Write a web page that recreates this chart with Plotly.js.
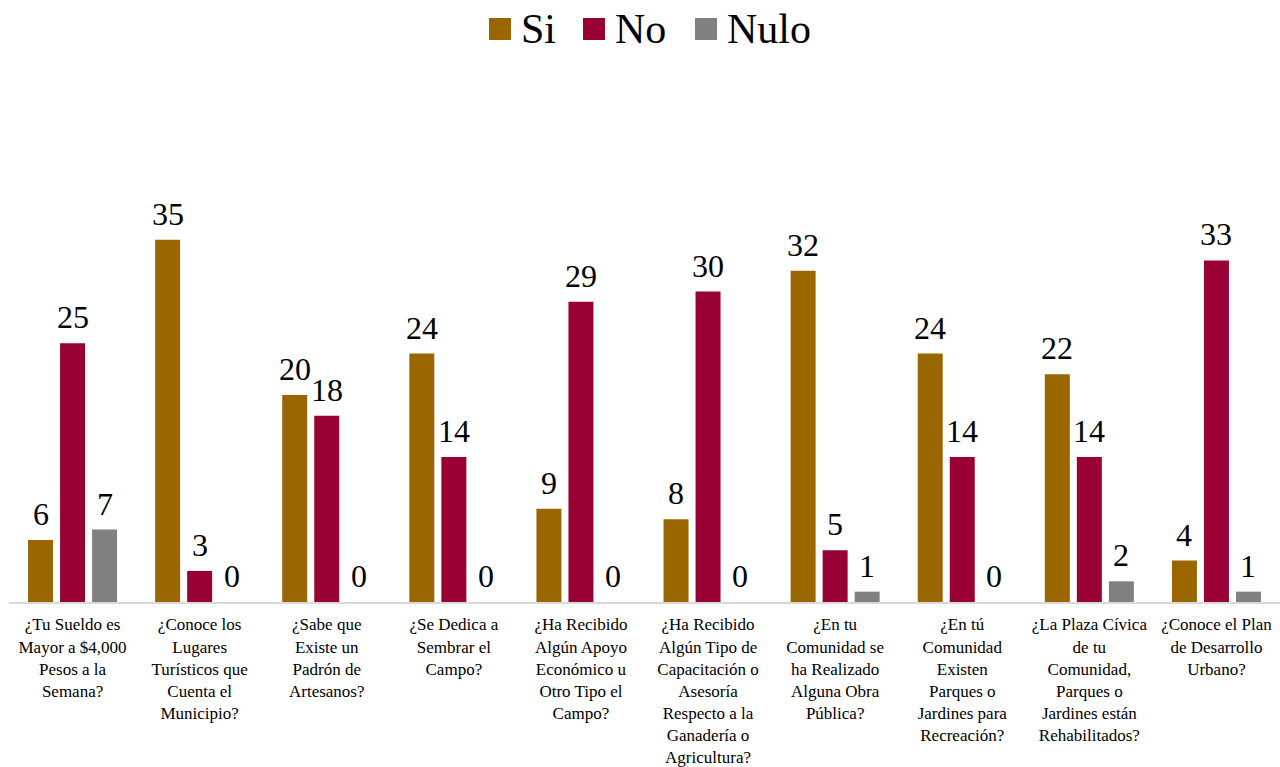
<!DOCTYPE html>
<html>
<head>
<meta charset="utf-8">
<script src="https://cdn.plot.ly/plotly-3.0.1.min.js"></script>
<style>html,body{margin:0;padding:0;background:#fff;}#chart{width:1280px;height:767px;}</style>
</head>
<body>
<div id="chart"></div>
<script>
const categories = [
  "¿Tu Sueldo es<br>Mayor a $4,000<br>Pesos a la<br>Semana?",
  "¿Conoce los<br>Lugares<br>Turísticos que<br>Cuenta el<br>Municipio?",
  "¿Sabe que<br>Existe un<br>Padrón de<br>Artesanos?",
  "¿Se Dedica a<br>Sembrar el<br>Campo?",
  "¿Ha Recibido<br>Algún Apoyo<br>Económico u<br>Otro Tipo el<br>Campo?",
  "¿Ha Recibido<br>Algún Tipo de<br>Capacitación o<br>Asesoría<br>Respecto a la<br>Ganadería o<br>Agricultura?",
  "¿En tu<br>Comunidad se<br>ha Realizado<br>Alguna Obra<br>Pública?",
  "¿En tú<br>Comunidad<br>Existen<br>Parques o<br>Jardines para<br>Recreación?",
  "¿La Plaza Cívica<br>de tu<br>Comunidad,<br>Parques o<br>Jardines están<br>Rehabilitados?",
  "¿Conoce el Plan<br>de Desarrollo<br>Urbano?"
];
const siValues   = [6, 35, 20, 24, 9, 8, 32, 24, 22, 4];
const noValues   = [25, 3, 18, 14, 29, 30, 5, 14, 14, 33];
const nuloValues = [7, 0, 0, 0, 0, 0, 1, 0, 2, 1];
const seriesNames = ["Si", "No", "Nulo"];
const seriesColors = ["#996600", "#990033", "#808080"];

const FONT = "Liberation Serif, DejaVu Serif, serif";
const allValues = [siValues, noValues, nuloValues];

// plot area geometry (pixels)
const M = {l: 9, r: 0, t: 188, b: 165};
const W = 1280, H = 767;
const PW = W - M.l - M.r, PH = H - M.t - M.b;
const px2x = px => (px - M.l) / PW;
const px2y = py => (H - M.b - py) / PH;

const traces = allValues.map((vals, i) => ({
  type: "bar",
  name: seriesNames[i],
  x: categories,
  y: vals,
  marker: {color: seriesColors[i]},
  hoverinfo: "x+y+name"
}));

// data labels above each bar
const annotations = [];
allValues.forEach((vals, i) => {
  vals.forEach((v, j) => {
    annotations.push({
      x: categories[j], y: v, xref: "x", yref: "y",
      text: String(v), showarrow: false,
      xshift: (i - 1) * 32, yanchor: "bottom", yshift: 6,
      font: {family: FONT, size: 32, color: "#000"}
    });
  });
});

// custom legend (large square swatches like the reference)
const shapes = [];
const legendSwatchLeft = [489, 583, 695];
seriesNames.forEach((name, i) => {
  const x0 = legendSwatchLeft[i];
  shapes.push({
    type: "rect", xref: "paper", yref: "paper",
    x0: px2x(x0), x1: px2x(x0 + 22), y0: px2y(40), y1: px2y(18),
    fillcolor: seriesColors[i], line: {width: 0}
  });
  annotations.push({
    xref: "paper", yref: "paper", x: px2x(x0 + 30), y: px2y(29),
    xanchor: "left", yanchor: "middle", showarrow: false,
    text: name, font: {family: FONT, size: 42, color: "#000"}
  });
});

const layout = {
  width: W,
  height: H,
  margin: M,
  paper_bgcolor: "#fff",
  plot_bgcolor: "#fff",
  barmode: "group",
  bargap: 0.244,
  bargroupgap: 0.22,
  font: {family: FONT, color: "#000"},
  showlegend: false,
  annotations: annotations,
  shapes: shapes,
  xaxis: {
    type: "category",
    showline: true,
    linecolor: "#d9d9d9",
    linewidth: 2,
    ticks: "",
    showgrid: false,
    tickangle: 0,
    ticklabelstandoff: 6,
    tickfont: {family: FONT, size: 17, color: "#000"},
    automargin: false
  },
  yaxis: {
    range: [0, 40],
    visible: false,
    showgrid: false,
    zeroline: false
  }
};

Plotly.newPlot("chart", traces, layout, {displayModeBar: false, staticPlot: true});
</script>
</body>
</html>
